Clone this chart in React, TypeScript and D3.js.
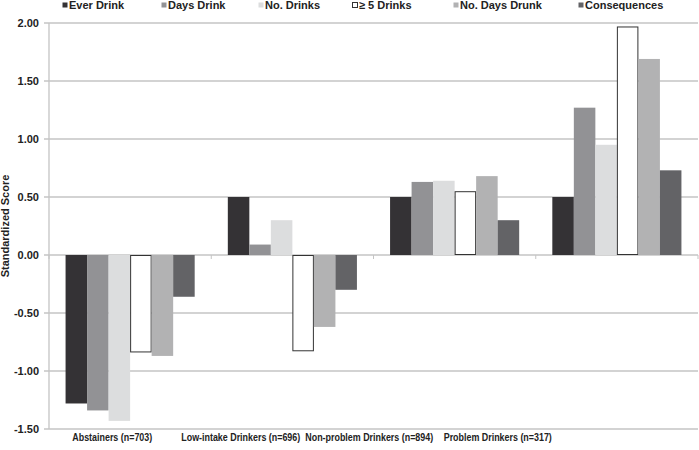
import React from "react";
import * as d3 from "d3";

const categories = [
  "Abstainers (n=703)",
  "Low-intake Drinkers (n=696)",
  "Non-problem Drinkers (n=894)",
  "Problem Drinkers (n=317)",
];
const seriesNames = ["Ever Drink", "Days Drink", "No. Drinks", "≥ 5 Drinks", "No. Days Drunk", "Consequences"];
const everDrink = [-1.28, 0.5, 0.5, 0.5];
const daysDrink = [-1.34, 0.09, 0.63, 1.27];
const noDrinks = [-1.43, 0.3, 0.64, 0.95];
const fivePlus = [-0.84, -0.83, 0.55, 1.97];
const daysDrunk = [-0.87, -0.62, 0.68, 1.69];
const consequences = [-0.36, -0.3, 0.3, 0.73];
const yTicks = [2.0, 1.5, 1.0, 0.5, 0.0, -0.5, -1.0, -1.5];

const seriesValues = [everDrink, daysDrink, noDrinks, fivePlus, daysDrunk, consequences];
const fills = ["#343235", "#929295", "#dcddde", "#ffffff", "#b2b2b3", "#636366"];
const strokes = ["none", "none", "none", "#333333", "none", "none"];
const LEGEND_X = [62, 161, 258, 352, 453, 578];

const W = 699;
const H = 450;
const FONT = "'Liberation Sans', Arial, Helvetica, sans-serif";
const GRID = "#c4c4c4";

export default function App() {
  const y = d3.scaleLinear().domain([-1.5, 2.0]).range([429, 23]);
  const x0 = d3.scaleBand<string>().domain(categories).range([49, 698]).padding(0);
  const x1 = d3
    .scaleBand<string>()
    .domain(seriesNames)
    .range([0, x0.bandwidth()])
    .paddingInner(0)
    .paddingOuter(0.77);
  const xLabel = d3.scaleBand<string>().domain(categories).range([48, 562]).padding(0);

  const boundaries = categories.map((c) => x0(c)!).concat([698]);

  return (
    <svg
      width={W}
      height={H}
      style={{ position: "absolute", left: 0, top: 0, display: "block", background: "#fff" }}
      fontFamily={FONT}
    >
      {/* gridlines */}
      {yTicks.map((t) => (
        <g key={"g" + t}>
          <line x1={44} x2={698} y1={y(t)} y2={y(t)} stroke={GRID} strokeWidth={1.3} />
          <text
            x={39}
            y={y(t)}
            dy="0.35em"
            textAnchor="end"
            fontSize={11}
            fontWeight="bold"
            fill="#222"
          >
            {t.toFixed(2)}
          </text>
        </g>
      ))}
      {/* y axis line */}
      <line x1={49} x2={49} y1={y(2)} y2={y(-1.5)} stroke={GRID} strokeWidth={1.3} />
      {/* category ticks at zero */}
      {boundaries.map((b, i) => (
        <line key={"ct" + i} x1={b} x2={b} y1={y(0)} y2={y(0) + 4} stroke={GRID} strokeWidth={1} />
      ))}
      {/* bars */}
      {seriesNames.map((s, si) => (
        <g key={s}>
          {categories.map((c, ci) => {
            const v = seriesValues[si][ci];
            const x = x0(c)! + x1(s)!;
            const y0 = y(Math.max(0, v));
            const h = Math.abs(y(v) - y(0));
            const stroked = strokes[si] !== "none";
            return (
              <rect
                key={c}
                x={stroked ? x + 0.5 : x}
                y={stroked ? y0 + 0.5 : y0}
                width={stroked ? x1.bandwidth() - 1 : x1.bandwidth()}
                height={stroked ? h - 1 : h}
                fill={fills[si]}
                stroke={strokes[si]}
                strokeWidth={1}
              />
            );
          })}
        </g>
      ))}
      {/* y axis title */}
      <text
        transform={`translate(9,${(y(2) + y(-1.5)) / 2}) rotate(-90)`}
        textAnchor="middle"
        fontSize={11}
        fontWeight="bold"
        fill="#222"
      >
        Standardized Score
      </text>
      {/* x labels */}
      {categories.map((c) => (
        <text
          key={"xl" + c}
          transform={`translate(${xLabel(c)! + xLabel.bandwidth() / 2},441) scale(0.81,1)`}
          textAnchor="middle"
          fontSize={11}
          fontWeight="bold"
          fill="#222"
        >
          {c}
        </text>
      ))}
      {/* legend */}
      {seriesNames.map((s, si) => (
        <g key={"lg" + s} transform={`translate(${LEGEND_X[si]},0)`}>
          <rect
            x={0.5}
            y={2.5}
            width={5}
            height={5}
            fill={fills[si]}
            stroke={strokes[si]}
            strokeWidth={1}
          />
          <text x={7} y={9} fontSize={11} fontWeight="bold" fill="#222">
            {s}
          </text>
        </g>
      ))}
    </svg>
  );
}
